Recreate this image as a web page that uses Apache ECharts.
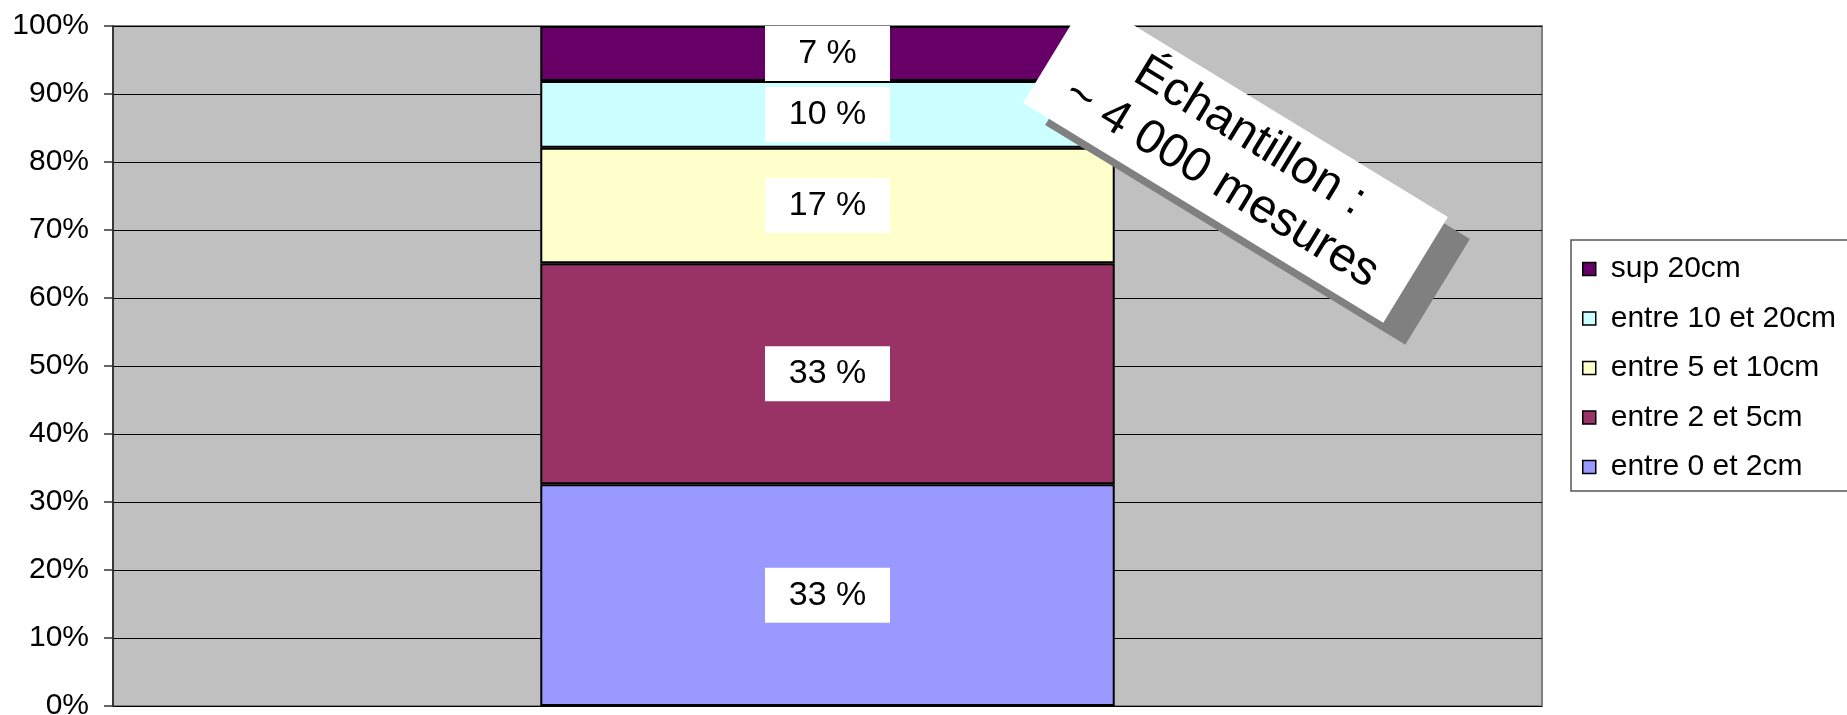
<!DOCTYPE html>
<html>
<head>
<meta charset="utf-8">
<script src="https://cdn.jsdelivr.net/npm/echarts@6/dist/echarts.min.js"></script>
<style>
html,body{margin:0;padding:0;background:#fff;}
#chart{width:1847px;height:715px;}
</style>
</head>
<body>
<div id="chart"></div>
<script>
// ---- data ----
const categories = [''];
const seriesNames = ['entre 0 et 2cm', 'entre 2 et 5cm', 'entre 5 et 10cm', 'entre 10 et 20cm', 'sup 20cm'];
const share0to2 = [32.6];
const share2to5 = [32.5];
const share5to10 = [17.0];
const share10to20 = [9.8];
const shareSup20 = [8.1];
const labelTexts = ['33 %', '33 %', '17 %', '10 %', '7 %'];
const legendOrder = ['sup 20cm', 'entre 10 et 20cm', 'entre 5 et 10cm', 'entre 2 et 5cm', 'entre 0 et 2cm'];
const annotationText = 'Échantillon :\n~ 4 000 mesures';

const seriesData = [share0to2, share2to5, share5to10, share10to20, shareSup20];
const colors = ['#9999ff', '#993366', '#ffffcc', '#ccffff', '#660066'];
const FONT = 'Liberation Sans, Arial, sans-serif';

const chart = echarts.init(document.getElementById('chart'), null, {renderer: 'canvas'});

const series = seriesNames.map((name, i) => ({
  name: name,
  type: 'bar',
  stack: 'total',
  barWidth: '40.2%',
  data: seriesData[i],
  z: 2,
  itemStyle: {color: colors[i], borderColor: '#000', borderWidth: 2},
  label: {
    show: true,
    position: 'inside',
    formatter: () => labelTexts[i],
    backgroundColor: '#fff',
    color: '#000',
    fontFamily: FONT,
    fontSize: 34,
    lineHeight: 34,
    width: 75,
    align: 'center',
    padding: [11, 25, 10, 25]
  },
  emphasis: {disabled: true}
}));

const angle = -31.4 * Math.PI / 180;

chart.setOption({
  animation: false,
  backgroundColor: '#fff',
  textStyle: {fontFamily: FONT},
  grid: {
    left: 113, right: 305, top: 26, bottom: 9,
    outerBoundsMode: 'none',
    containLabel: false,
    show: true, backgroundColor: '#c0c0c0', borderColor: '#808080', borderWidth: 2
  },
  legend: {
    orient: 'vertical',
    left: 1571, top: 240,
    data: legendOrder,
    backgroundColor: '#fff',
    borderColor: '#555',
    borderWidth: 1.5,
    padding: [14, 40, 9, 11],
    itemGap: 19.5,
    itemWidth: 13,
    itemHeight: 13,
    icon: 'rect',
    itemStyle: {borderColor: '#000', borderWidth: 1.5},
    textStyle: {fontFamily: FONT, fontSize: 30, lineHeight: 30, color: '#000', padding: [0, 0, 0, 10]},
    selectedMode: false
  },
  xAxis: {
    type: 'category',
    data: categories,
    axisLine: {show: false},
    axisTick: {show: false},
    axisLabel: {show: false}
  },
  yAxis: {
    type: 'value',
    min: 0, max: 100, interval: 10,
    axisLine: {show: true, lineStyle: {color: '#222', width: 1.5}},
    axisTick: {show: true, length: 9, lineStyle: {color: '#333', width: 1.5}},
    axisLabel: {formatter: '{value}%', fontFamily: FONT, fontSize: 30, color: '#000', margin: 24},
    splitLine: {show: true, lineStyle: {color: '#000', width: 1.2}}
  },
  series: series,
  graphic: [
    {
      type: 'group', x: 1257.5, y: 182, rotation: angle, z: 100, zlevel: 1,
      children: [{type: 'rect', z: 100, zlevel: 1, shape: {x: -211, y: -62, width: 422, height: 124}, style: {fill: '#808080'}}]
    },
    {
      type: 'group', x: 1235.5, y: 160, rotation: angle, z: 101, zlevel: 1,
      children: [
        {type: 'rect', z: 101, zlevel: 1, shape: {x: -211, y: -62, width: 422, height: 124}, style: {fill: '#fff'}},
        {type: 'text', z: 102, zlevel: 1, x: 0, y: 0, style: {
          text: annotationText, align: 'center', verticalAlign: 'middle',
          fontFamily: FONT, fontSize: 48, lineHeight: 55, fill: '#000'
        }}
      ]
    }
  ]
});
</script>
</body>
</html>
